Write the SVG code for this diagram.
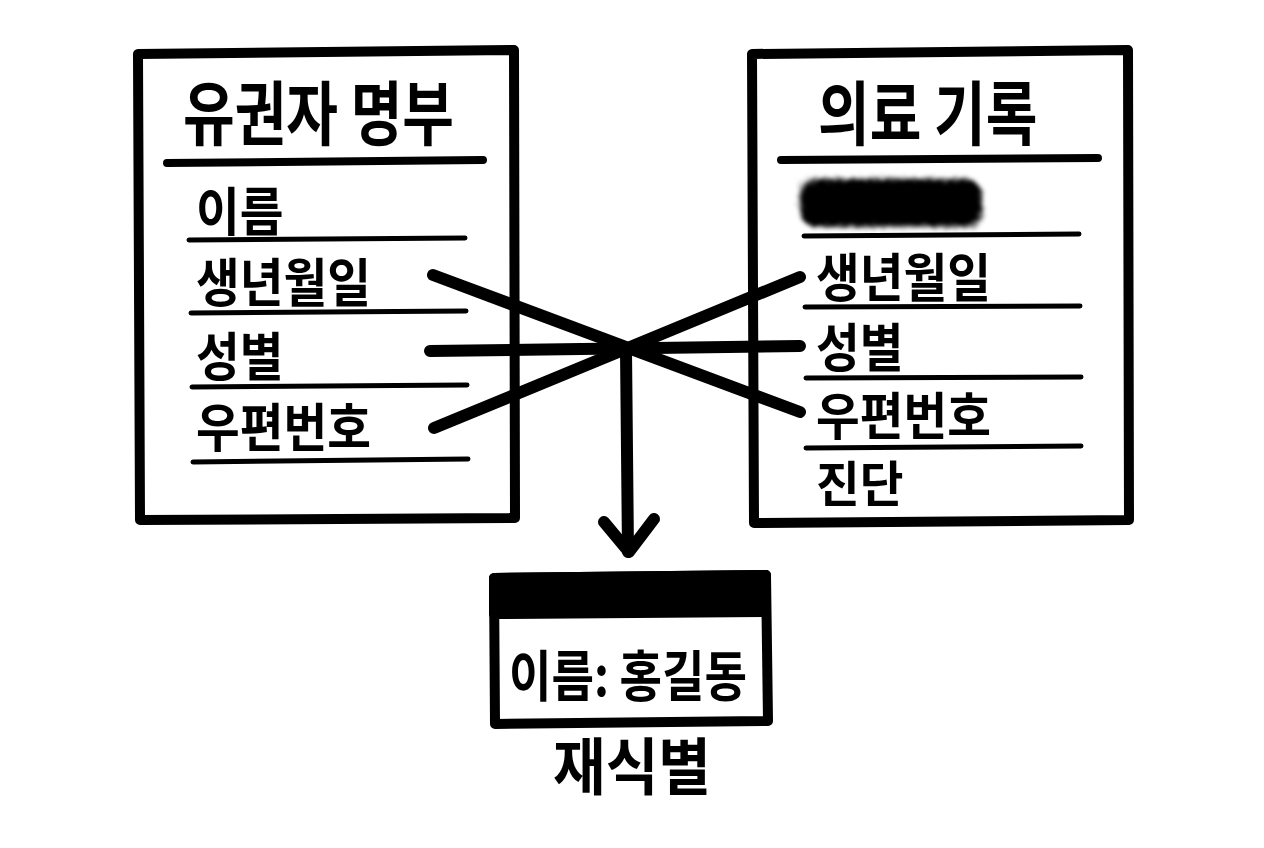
<svg xmlns="http://www.w3.org/2000/svg" width="1264" height="848" viewBox="0 0 1264 848">
<style>
.box{fill:#fff;stroke:#000;stroke-width:10;stroke-linejoin:round;stroke-linecap:round}
.rule{stroke:#000;stroke-width:5;stroke-linecap:round;fill:none}
.hrule{stroke:#000;stroke-width:8;stroke-linecap:round;fill:none}
.conn{stroke:#000;stroke-width:12;stroke-linecap:round;stroke-linejoin:round;fill:none}
.t{font-family:"Noto Sans CJK KR","Noto Sans",sans-serif;font-weight:700;fill:#000}
.h{font-size:54px}
.r{font-size:44px}
</style>
<defs>
<filter id="smudge" x="-20%" y="-60%" width="140%" height="220%">
<feTurbulence type="fractalNoise" baseFrequency="0.9" numOctaves="2" result="n"/>
<feDisplacementMap in="SourceGraphic" in2="n" scale="14" result="d"/>
<feGaussianBlur in="d" stdDeviation="2"/>
</filter>
</defs>
<rect width="1264" height="848" fill="#fff"/>
<g id="voter-roll">
<path class="box" d="M138,54 L514,50 L515,518 L140,520 Z"/>
<text class="t h" transform="translate(183,140) scale(1.04,1.3)">유권자 명부</text>
<path class="hrule" d="M167,163 L483,160"/>
<text class="t r" transform="translate(196,231) scale(1.08,1.2)">이름</text>
<path class="rule" d="M189,240 L465,238"/>
<text class="t r" transform="translate(196,302) scale(1.08,1.2)">생년월일</text>
<path class="rule" d="M191,313 L466,311"/>
<text class="t r" transform="translate(196,376) scale(1.08,1.2)">성별</text>
<path class="rule" d="M192,387 L467,385"/>
<text class="t r" transform="translate(196,447) scale(1.08,1.2)">우편번호</text>
<path class="rule" d="M193,462 L468,459"/>
</g>
<g id="medical-record">
<path class="box" d="M752,54 L1128,50 L1129,520 L754,523 Z"/>
<text class="t h" transform="translate(818,140) scale(1.04,1.3)">의료 기록</text>
<path class="hrule" d="M781,160 L1098,158"/>
<rect x="800" y="179" width="182" height="48" rx="16" fill="#000" filter="url(#smudge)"/>
<path class="rule" d="M804,236 L1079,234"/>
<text class="t r" transform="translate(816,297) scale(1.08,1.2)">생년월일</text>
<path class="rule" d="M805,307 L1080,306"/>
<text class="t r" transform="translate(816,367) scale(1.08,1.2)">성별</text>
<path class="rule" d="M806,378 L1081,377"/>
<text class="t r" transform="translate(816,435) scale(1.08,1.15)">우편번호</text>
<path class="rule" d="M806,448 L1081,446"/>
<text class="t r" transform="translate(816,502) scale(1.08,1.12)">진단</text>
</g>
<g id="connectors">
<path class="conn" d="M433,275 L800,412"/>
<path class="conn" d="M430,351 L800,346"/>
<path class="conn" d="M434,428 L800,277"/>
<path class="conn" d="M626,350 L628,552"/>
<path class="conn" d="M604,522 L629,552 L654,519"/>
</g>
<g id="reidentified">
<path class="box" d="M494,578 L766,575 L768,721 L495,724 Z"/>
<path d="M494,578 L766,575 L766,612 L494,614 Z" fill="#000" stroke="#000" stroke-width="10" stroke-linejoin="round"/>
<text class="t" font-size="44" text-anchor="middle" transform="translate(628,696) scale(1.05,1.25)">이름: 홍길동</text>
<text class="t" font-size="52" text-anchor="middle" transform="translate(632,790) scale(1.1,1.2)">재식별</text>
</g>
</svg>
